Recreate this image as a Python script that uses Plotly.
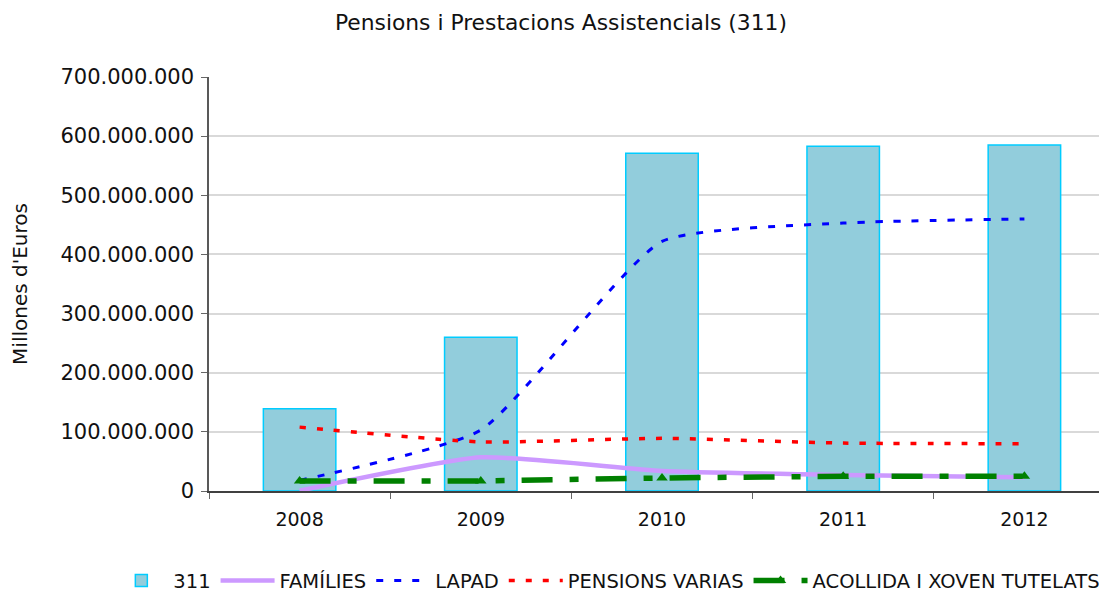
import plotly.graph_objects as go

years = ["2008", "2009", "2010", "2011", "2012"]
total_311 = [139e6, 260e6, 571e6, 583e6, 585e6]
families = [0.5e6, 57e6, 34e6, 27e6, 23e6]
lapad = [18e6, 103e6, 422e6, 453e6, 460e6]
pensions_varias = [108e6, 83e6, 89e6, 81e6, 80e6]
acollida = [17e6, 17e6, 22e6, 25e6, 25e6]

FONT = "DejaVu Sans"

fig = go.Figure()

fig.add_trace(go.Bar(
    x=years, y=total_311, name="311",
    marker=dict(color="#92cddc", line=dict(color="#00ccff", width=1.5)),
))
fig.add_trace(go.Scatter(
    x=years, y=families, name="FAMÍLIES", mode="lines",
    line=dict(color="#cc99ff", width=4.5, shape="spline", smoothing=0.5),
))
fig.add_trace(go.Scatter(
    x=years, y=lapad, name="LAPAD", mode="lines",
    line=dict(color="#0000ff", width=3, dash="7px,11px", shape="spline", smoothing=0.5),
))
fig.add_trace(go.Scatter(
    x=years, y=pensions_varias, name="PENSIONS VARIAS", mode="lines",
    line=dict(color="#ff0000", width=3.5, dash="6px,11px", shape="spline", smoothing=0.5),
))
fig.add_trace(go.Scatter(
    x=years, y=acollida, name="ACOLLIDA I XOVEN TUTELATS", mode="lines+markers",
    line=dict(color="#008000", width=5.5, dash="31px,17px,9px,17px"),
    marker=dict(symbol="triangle-up", size=10, color="#008000"),
))

# the page body adds an 8px offset, so margins are shifted to compensate
fig.update_layout(
    width=1107, height=592,
    margin=dict(l=201, r=0, t=69, b=109, autoexpand=False),
    paper_bgcolor="white", plot_bgcolor="white",
    separators=",.",
    bargap=0.6,
    font=dict(family=FONT, color="#111111"),
    title=dict(text="Pensions i Prestacions Assistencials (311)",
               x=0.4995, xref="container", xanchor="center",
               y=0.976, yanchor="middle",
               font=dict(size=21.8, family=FONT, color="#111111")),
    legend=dict(orientation="h", xref="paper", x=-0.110, xanchor="left",
                y=-0.217, yanchor="middle",
                font=dict(size=19.5, family=FONT),
                itemwidth=54, tracegroupgap=0),
    showlegend=True,
)

fig.update_xaxes(
    type="category", range=[-0.5, 4.5], automargin=False,
    tickson="boundaries", ticks="outside", ticklen=6, ticklabelstandoff=10,
    tickcolor="#666666", showline=True, linecolor="#404040", linewidth=2,
    showgrid=False, tickfont=dict(size=19, family=FONT),
)
fig.update_yaxes(
    range=[0, 700e6], dtick=100e6, tickformat=",.0f", automargin=False,
    ticks="outside", ticklen=6, tickcolor="#666666", ticklabelstandoff=3,
    showline=True, linecolor="#595959", linewidth=1.5,
    showgrid=True, gridcolor="#d9d9d9", gridwidth=1.5,
    zeroline=False,
    tickfont=dict(size=21, family=FONT),
    title=dict(text="Millones d'Euros", font=dict(size=20, family=FONT), standoff=28),
)

fig.write_html("out.html")
